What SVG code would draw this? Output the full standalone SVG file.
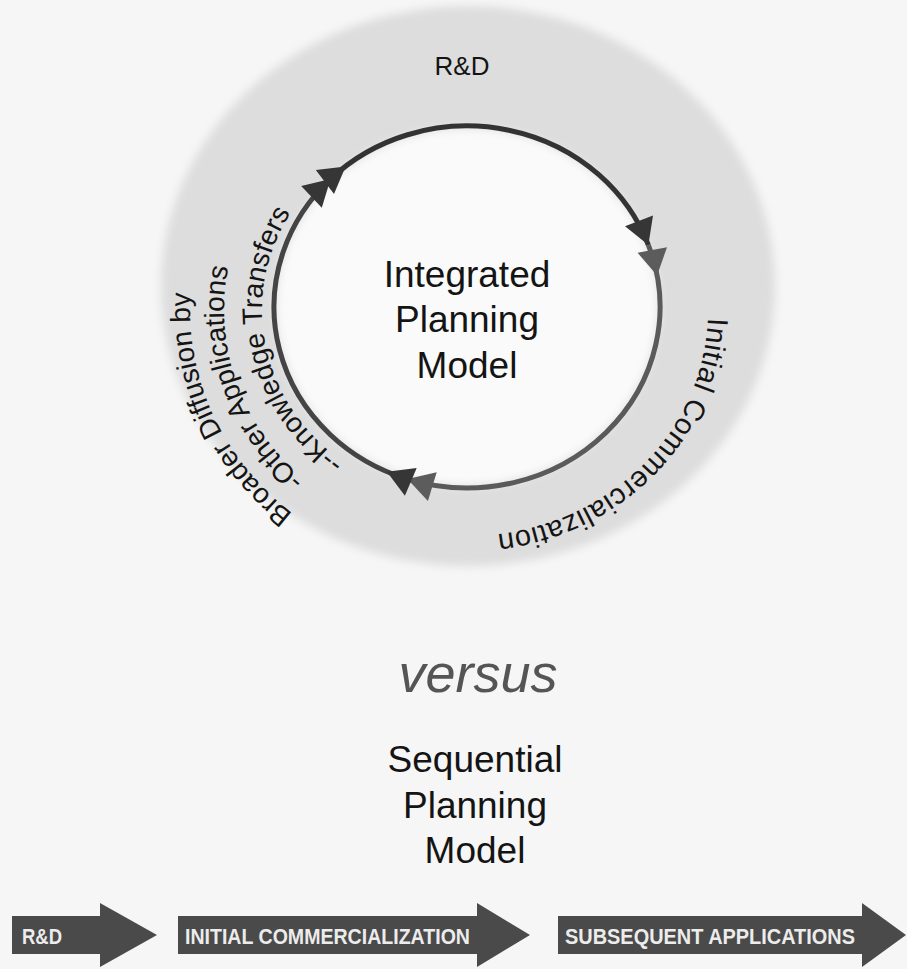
<svg xmlns="http://www.w3.org/2000/svg" width="907" height="969" viewBox="0 0 907 969">
<defs>
<style>
.t{font-family:"Liberation Sans",Arial,sans-serif;fill:#141414}
.c{font-size:37px;text-anchor:middle}
.cv{font-size:28px}
.bt{font-family:"Liberation Sans",Arial,sans-serif;font-weight:bold;font-size:22px;fill:#ececec}
.ar{fill:#4a4a4a}
.ln{fill:none;stroke-width:5;stroke-linecap:butt}
.hd{fill:#363636}
.hl{fill:#5c5c5c}
</style>
<filter id="soft" x="-10%" y="-10%" width="120%" height="120%"><feGaussianBlur stdDeviation="5"/></filter>
<path id="pR" d="M 707.9 317.9 A 241 226 0 0 1 425.2 532.6"/>
<path id="pO" d="M 292.8 513.6 A 277 262 0 0 1 216.0 199.2"/>
<path id="pM" d="M 304.4 479.4 A 243 228 0 0 1 327.5 123.3"/>
<path id="pI" d="M 343.6 461.8 A 205 190 0 0 1 349.4 154.4"/>
</defs>
<rect width="907" height="969" fill="#f6f6f6"/>
<g id="ring">
<ellipse cx="468" cy="286" rx="307" ry="280" fill="#dddddd" filter="url(#soft)"/>
<ellipse cx="467" cy="307" rx="191" ry="179" fill="#fafafa" filter="url(#soft)"/>
</g>
<g id="connectors">
<path class="ln" stroke="#333" d="M 330.5 179.0 A 193 181 0 0 1 648.4 245.1"/>
<path class="ln" stroke="#5a5a5a" d="M 648.4 245.1 A 193 181 0 0 1 407.4 479.1"/>
<path class="ln" stroke="#444" d="M 407.4 479.1 A 193 181 0 0 1 330.5 179.0"/>
<polygon class="hd" points="648.4,245.1 653.0,215.5 625.0,226.3"/>
<polygon class="hl" points="657.1,275.6 667.0,247.2 637.6,252.8"/>
<polygon class="hl" points="407.4,479.1 436.7,472.3 427.9,501.1"/>
<polygon class="hd" points="386.9,471.7 416.7,468.1 404.9,495.7"/>
<polygon class="hd" points="330.5,179.0 321.8,207.7 301.2,185.9"/>
<polygon class="hd" points="345.6,166.4 334.0,194.1 315.8,170.1"/>
</g>
<g id="rd-label"><text class="t" x="462" y="75" font-size="26" text-anchor="middle">R&amp;D</text></g>
<g id="center-title">
<text class="t c" x="467" y="287">Integrated</text>
<text class="t c" x="467" y="332">Planning</text>
<text class="t c" x="467" y="378">Model</text>
</g>
<g id="initial-commercialization"><text class="t" font-size="29" letter-spacing="0.6"><textPath href="#pR">Initial Commercialization</textPath></text></g>
<g id="broader-diffusion"><text class="t cv"><textPath href="#pO">Broader Diffusion by</textPath></text></g>
<g id="other-applications"><text class="t cv"><textPath href="#pM">-Other Applications</textPath></text></g>
<g id="knowledge-transfers"><text class="t cv"><textPath href="#pI">--Knowledge Transfers</textPath></text></g>
<g id="versus"><text class="t" x="478" y="692" font-size="54" font-style="italic" text-anchor="middle" style="fill:#555">versus</text></g>
<g id="sequential-title">
<text class="t c" x="475" y="772">Sequential</text>
<text class="t c" x="475" y="818">Planning</text>
<text class="t c" x="475" y="863">Model</text>
</g>
<g id="seq-rd">
<polygon class="ar" points="12,916 100,916 100,903 157,935 100,967 100,954 12,954"/>
<text class="bt" x="22" y="944" textLength="40" lengthAdjust="spacingAndGlyphs">R&amp;D</text>
</g>
<g id="seq-initial">
<polygon class="ar" points="178,916 477,916 477,903 530,935 477,967 477,954 178,954"/>
<text class="bt" x="185" y="944" textLength="285" lengthAdjust="spacingAndGlyphs">INITIAL COMMERCIALIZATION</text>
</g>
<g id="seq-subsequent">
<polygon class="ar" points="558,916 862,916 862,903 906,935 862,967 862,954 558,954"/>
<text class="bt" x="565" y="944" textLength="290" lengthAdjust="spacingAndGlyphs">SUBSEQUENT APPLICATIONS</text>
</g>
</svg>
